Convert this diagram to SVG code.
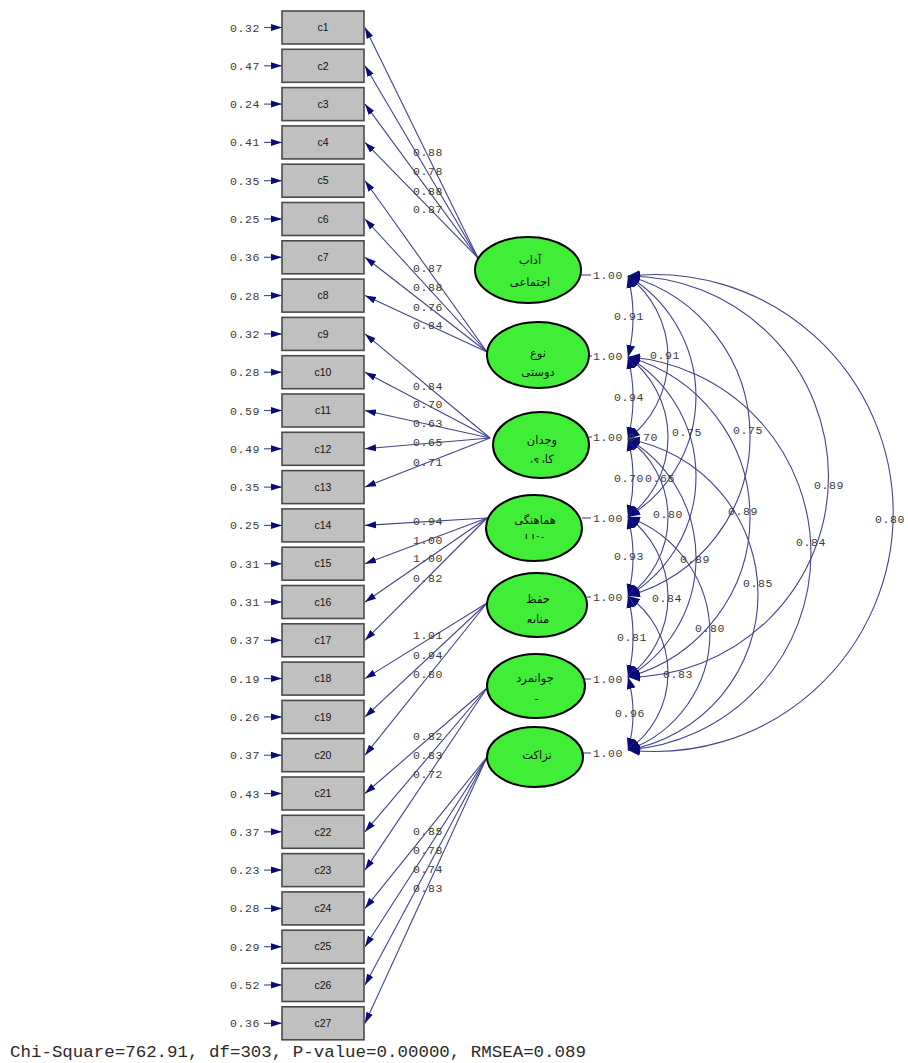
<svg xmlns="http://www.w3.org/2000/svg" width="908" height="1063" viewBox="0 0 908 1063">
<style>
.box{fill:#c0c0c0;stroke:#4a4a4a;stroke-width:1.6}
.bl{font-family:"Liberation Sans",Arial,sans-serif;font-size:10.5px;fill:#111;text-anchor:middle}
.num{font-family:"Liberation Mono","Courier New",monospace;font-size:11.5px;letter-spacing:0.6px;fill:#3a3a3a}
.numc{font-family:"Liberation Mono","Courier New",monospace;font-size:11.5px;letter-spacing:0.6px;fill:#3a3a3a;text-anchor:middle}
.lat{fill:#40ee38;stroke:#000;stroke-width:2}
.fa{font-family:"DejaVu Sans","Noto Sans",sans-serif;font-size:11.5px;fill:#111;text-anchor:middle}
.ln{fill:none;stroke:#43438a;stroke-width:1.1}
.arr{marker-end:url(#ah)}
.cov{fill:none;stroke:#43438a;stroke-width:1.1;marker-start:url(#ch);marker-end:url(#ch)}
.fit{font-family:"Liberation Mono","Courier New",monospace;font-size:17.4px;fill:#2a2a2a}
</style>
<defs>
<marker id="ah" markerUnits="userSpaceOnUse" markerWidth="11" markerHeight="8" refX="11" refY="4" orient="auto-start-reverse">
<path d="M0,0.5 L11,4 L0,7.5 z" fill="#0a0a78"/>
</marker>
<marker id="ch" markerUnits="userSpaceOnUse" markerWidth="12" markerHeight="9" refX="12" refY="4.5" orient="auto-start-reverse">
<path d="M0,0 L12,4.5 L0,9 z" fill="#0a0a78"/>
</marker>
<clipPath id="clV"><rect x="480" y="400" width="120" height="63"/></clipPath>
<clipPath id="clH"><rect x="480" y="480" width="120" height="59"/></clipPath>
<clipPath id="clF"><rect x="480" y="560" width="120" height="63"/></clipPath>
<clipPath id="clJ"><rect x="480" y="640" width="120" height="60"/></clipPath>
</defs>

<g id="connectors">
<g class="ln arr">
<path d="M264,27.5H282"/><path d="M264,65.8H282"/><path d="M264,104.1H282"/><path d="M264,142.4H282"/>
<path d="M264,180.7H282"/><path d="M264,219H282"/><path d="M264,257.3H282"/><path d="M264,295.6H282"/>
<path d="M264,333.9H282"/><path d="M264,372.2H282"/><path d="M264,410.5H282"/><path d="M264,448.8H282"/>
<path d="M264,487.1H282"/><path d="M264,525.4H282"/><path d="M264,563.7H282"/><path d="M264,602H282"/>
<path d="M264,640.3H282"/><path d="M264,678.6H282"/><path d="M264,716.9H282"/><path d="M264,755.2H282"/>
<path d="M264,793.5H282"/><path d="M264,831.8H282"/><path d="M264,870.1H282"/><path d="M264,908.4H282"/>
<path d="M264,946.7H282"/><path d="M264,985H282"/><path d="M264,1023.3H282"/>
</g>
<g class="num">
<text x="230" y="31.5">0.32</text><text x="230" y="69.8">0.47</text><text x="230" y="108.1">0.24</text><text x="230" y="146.4">0.41</text>
<text x="230" y="184.7">0.35</text><text x="230" y="223">0.25</text><text x="230" y="261.3">0.36</text><text x="230" y="299.6">0.28</text>
<text x="230" y="337.9">0.32</text><text x="230" y="376.2">0.28</text><text x="230" y="414.5">0.59</text><text x="230" y="452.8">0.49</text>
<text x="230" y="491.1">0.35</text><text x="230" y="529.4">0.25</text><text x="230" y="567.7">0.31</text><text x="230" y="606">0.31</text>
<text x="230" y="644.3">0.37</text><text x="230" y="682.6">0.19</text><text x="230" y="720.9">0.26</text><text x="230" y="759.2">0.37</text>
<text x="230" y="797.5">0.43</text><text x="230" y="835.8">0.37</text><text x="230" y="874.1">0.23</text><text x="230" y="912.4">0.28</text>
<text x="230" y="950.7">0.29</text><text x="230" y="989">0.52</text><text x="230" y="1027.3">0.36</text>
</g>
<g class="ln arr">
<path d="M478,258L365,27.5"/><path d="M478,258L365,65.8"/><path d="M478,258L365,104.1"/><path d="M478,258L365,142.4"/>
<path d="M487,352L365,180.7"/><path d="M487,352L365,219"/><path d="M487,352L365,257.3"/><path d="M487,352L365,295.6"/>
<path d="M490,438L365,333.9"/><path d="M490,438L365,372.2"/><path d="M490,438L365,410.5"/><path d="M490,438L365,448.8"/><path d="M490,438L365,487.1"/>
<path d="M487,518L365,525.4"/><path d="M487,518L365,563.7"/><path d="M487,518L365,602"/><path d="M487,518L365,640.3"/>
<path d="M487,603L365,678.6"/><path d="M487,603L365,716.9"/><path d="M487,603L365,755.2"/>
<path d="M487,688L365,793.5"/><path d="M487,688L365,831.8"/><path d="M487,688L365,870.1"/>
<path d="M487,757L365,908.4"/><path d="M487,757L365,946.7"/><path d="M487,757L365,985"/><path d="M487,757L365,1023.3"/>
</g>
<g class="numc">
<text x="428" y="156">0.88</text><text x="428" y="175">0.78</text><text x="428" y="195">0.88</text><text x="428" y="213">0.87</text>
<text x="428" y="272">0.87</text><text x="428" y="291">0.88</text><text x="428" y="311">0.76</text><text x="428" y="329">0.84</text>
<text x="428" y="390">0.84</text><text x="428" y="408">0.70</text><text x="428" y="427">0.63</text><text x="428" y="446">0.65</text><text x="428" y="466">0.71</text>
<text x="428" y="525">0.94</text><text x="428" y="544">1.00</text><text x="428" y="562">1.00</text><text x="428" y="582">0.82</text>
<text x="428" y="639">1.01</text><text x="428" y="659">0.94</text><text x="428" y="678">0.80</text>
<text x="428" y="740">0.82</text><text x="428" y="759">0.83</text><text x="428" y="778">0.72</text>
<text x="428" y="835">0.85</text><text x="428" y="854">0.78</text><text x="428" y="873">0.74</text><text x="428" y="892">0.83</text>
</g>
<g class="ln">
<path d="M581,275H591"/><path d="M589,356H592"/><path d="M589,437H592"/><path d="M582,518H591"/>
<path d="M587,597H591"/><path d="M585,679H591"/><path d="M583,753H591"/>
</g>
<g class="num">
<text x="593" y="279">1.00</text><text x="593" y="360">1.00</text><text x="593" y="441">1.00</text><text x="593" y="522">1.00</text>
<text x="593" y="601">1.00</text><text x="593" y="683">1.00</text><text x="593" y="757">1.00</text>
</g>
<g class="cov">
<path d="M628,276A166.5,166.5 0 0 1 628,357"/>
<path d="M628,357A170.6,170.6 0 0 1 628,439"/>
<path d="M628,439A154.6,154.6 0 0 1 628,517"/>
<path d="M628,517A158.5,158.5 0 0 1 628,596"/>
<path d="M628,596A166.5,166.5 0 0 1 628,677"/>
<path d="M628,677A135.7,135.7 0 0 1 628,750"/>
<path d="M628,276A103,103 0 0 1 628,439"/>
<path d="M628,357A100,100 0 0 1 628,517"/>
<path d="M628,439A97,97 0 0 1 628,596"/>
<path d="M628,517A100,100 0 0 1 628,677"/>
<path d="M628,596A94.1,94.1 0 0 1 628,750"/>
<path d="M628,276A140.8,140.8 0 0 1 628,517"/>
<path d="M628,357A139,139 0 0 1 628,596"/>
<path d="M628,439A138.1,138.1 0 0 1 628,677"/>
<path d="M628,517A123.8,123.8 0 0 1 628,750"/>
<path d="M628,276A165.9,165.9 0 0 1 628,596"/>
<path d="M628,357A165.9,165.9 0 0 1 628,677"/>
<path d="M628,439A158,158 0 0 1 628,750"/>
<path d="M628,276A200.5,200.5 0 0 1 628,677"/>
<path d="M628,357A197,197 0 0 1 628,750"/>
<path d="M628,276A238.5,238.5 0 1 1 628,750"/>
</g>
<g class="numc">
<text x="629" y="320">0.91</text><text x="629" y="401">0.94</text><text x="629" y="482">0.70</text>
<text x="629" y="560">0.93</text><text x="632" y="641">0.81</text><text x="630" y="717">0.96</text>
<text x="665" y="359">0.91</text><text x="643" y="441">0.70</text><text x="668" y="518">0.80</text>
<text x="667" y="602">0.84</text><text x="678" y="678">0.83</text>
<text x="687" y="436">0.75</text><text x="660" y="482">0.65</text><text x="695" y="563">0.89</text><text x="710" y="632">0.80</text>
<text x="748" y="434">0.75</text><text x="743" y="515">0.89</text><text x="758" y="587">0.85</text>
<text x="829" y="489">0.89</text><text x="811" y="546">0.84</text>
<text x="890" y="523">0.80</text>
</g>
</g>

<g id="observed" class="bl">
<g id="c1"><rect class="box" x="282" y="11" width="82" height="33"/><text x="323" y="31.2">c1</text></g>
<g id="c2"><rect class="box" x="282" y="49.3" width="82" height="33"/><text x="323" y="69.5">c2</text></g>
<g id="c3"><rect class="box" x="282" y="87.6" width="82" height="33"/><text x="323" y="107.8">c3</text></g>
<g id="c4"><rect class="box" x="282" y="125.9" width="82" height="33"/><text x="323" y="146.1">c4</text></g>
<g id="c5"><rect class="box" x="282" y="164.2" width="82" height="33"/><text x="323" y="184.4">c5</text></g>
<g id="c6"><rect class="box" x="282" y="202.5" width="82" height="33"/><text x="323" y="222.7">c6</text></g>
<g id="c7"><rect class="box" x="282" y="240.8" width="82" height="33"/><text x="323" y="261">c7</text></g>
<g id="c8"><rect class="box" x="282" y="279.1" width="82" height="33"/><text x="323" y="299.3">c8</text></g>
<g id="c9"><rect class="box" x="282" y="317.4" width="82" height="33"/><text x="323" y="337.6">c9</text></g>
<g id="c10"><rect class="box" x="282" y="355.7" width="82" height="33"/><text x="323" y="375.9">c10</text></g>
<g id="c11"><rect class="box" x="282" y="394" width="82" height="33"/><text x="323" y="414.2">c11</text></g>
<g id="c12"><rect class="box" x="282" y="432.3" width="82" height="33"/><text x="323" y="452.5">c12</text></g>
<g id="c13"><rect class="box" x="282" y="470.6" width="82" height="33"/><text x="323" y="490.8">c13</text></g>
<g id="c14"><rect class="box" x="282" y="508.9" width="82" height="33"/><text x="323" y="529.1">c14</text></g>
<g id="c15"><rect class="box" x="282" y="547.2" width="82" height="33"/><text x="323" y="567.4">c15</text></g>
<g id="c16"><rect class="box" x="282" y="585.5" width="82" height="33"/><text x="323" y="605.7">c16</text></g>
<g id="c17"><rect class="box" x="282" y="623.8" width="82" height="33"/><text x="323" y="644">c17</text></g>
<g id="c18"><rect class="box" x="282" y="662.1" width="82" height="33"/><text x="323" y="682.3">c18</text></g>
<g id="c19"><rect class="box" x="282" y="700.4" width="82" height="33"/><text x="323" y="720.6">c19</text></g>
<g id="c20"><rect class="box" x="282" y="738.7" width="82" height="33"/><text x="323" y="758.9">c20</text></g>
<g id="c21"><rect class="box" x="282" y="777" width="82" height="33"/><text x="323" y="797.2">c21</text></g>
<g id="c22"><rect class="box" x="282" y="815.3" width="82" height="33"/><text x="323" y="835.5">c22</text></g>
<g id="c23"><rect class="box" x="282" y="853.6" width="82" height="33"/><text x="323" y="873.8">c23</text></g>
<g id="c24"><rect class="box" x="282" y="891.9" width="82" height="33"/><text x="323" y="912.1">c24</text></g>
<g id="c25"><rect class="box" x="282" y="930.2" width="82" height="33"/><text x="323" y="950.4">c25</text></g>
<g id="c26"><rect class="box" x="282" y="968.5" width="82" height="33"/><text x="323" y="988.7">c26</text></g>
<g id="c27"><rect class="box" x="282" y="1006.8" width="82" height="33"/><text x="323" y="1027">c27</text></g>
</g>

<g id="latent">
<g id="F1"><ellipse class="lat" cx="528" cy="270" rx="53" ry="33"/><text class="fa" x="530" y="264">آداب</text><text class="fa" x="530" y="286">اجتماعی</text></g>
<g id="F2"><ellipse class="lat" cx="538" cy="355" rx="51" ry="33"/><text class="fa" x="538" y="357">نوع</text><text class="fa" x="538" y="376">دوستی</text></g>
<g id="F3"><ellipse class="lat" cx="541" cy="445" rx="48" ry="33"/><text class="fa" x="542" y="444">وجدان</text><text class="fa" x="542" y="463" clip-path="url(#clV)">کاری</text></g>
<g id="F4"><ellipse class="lat" cx="534" cy="528" rx="48" ry="33"/><text class="fa" x="535" y="524">هماهنگی</text><text class="fa" x="535" y="543" clip-path="url(#clH)">متقابل</text></g>
<g id="F5"><ellipse class="lat" cx="537" cy="605" rx="50" ry="32"/><text class="fa" x="538" y="603">حفظ</text><text class="fa" x="538" y="623" clip-path="url(#clF)">منابع</text></g>
<g id="F6"><ellipse class="lat" cx="536" cy="686" rx="49" ry="32"/><text class="fa" x="535" y="682">جوانمرد</text><text class="fa" x="535" y="704" clip-path="url(#clJ)">ی</text></g>
<g id="F7"><ellipse class="lat" cx="535" cy="757" rx="48" ry="30"/><text class="fa" x="537" y="759">نزاکت</text></g>
</g>

<text class="fit" x="10" y="1057" textLength="576" lengthAdjust="spacingAndGlyphs">Chi-Square=762.91, df=303, P-value=0.00000, RMSEA=0.089</text>
</svg>
